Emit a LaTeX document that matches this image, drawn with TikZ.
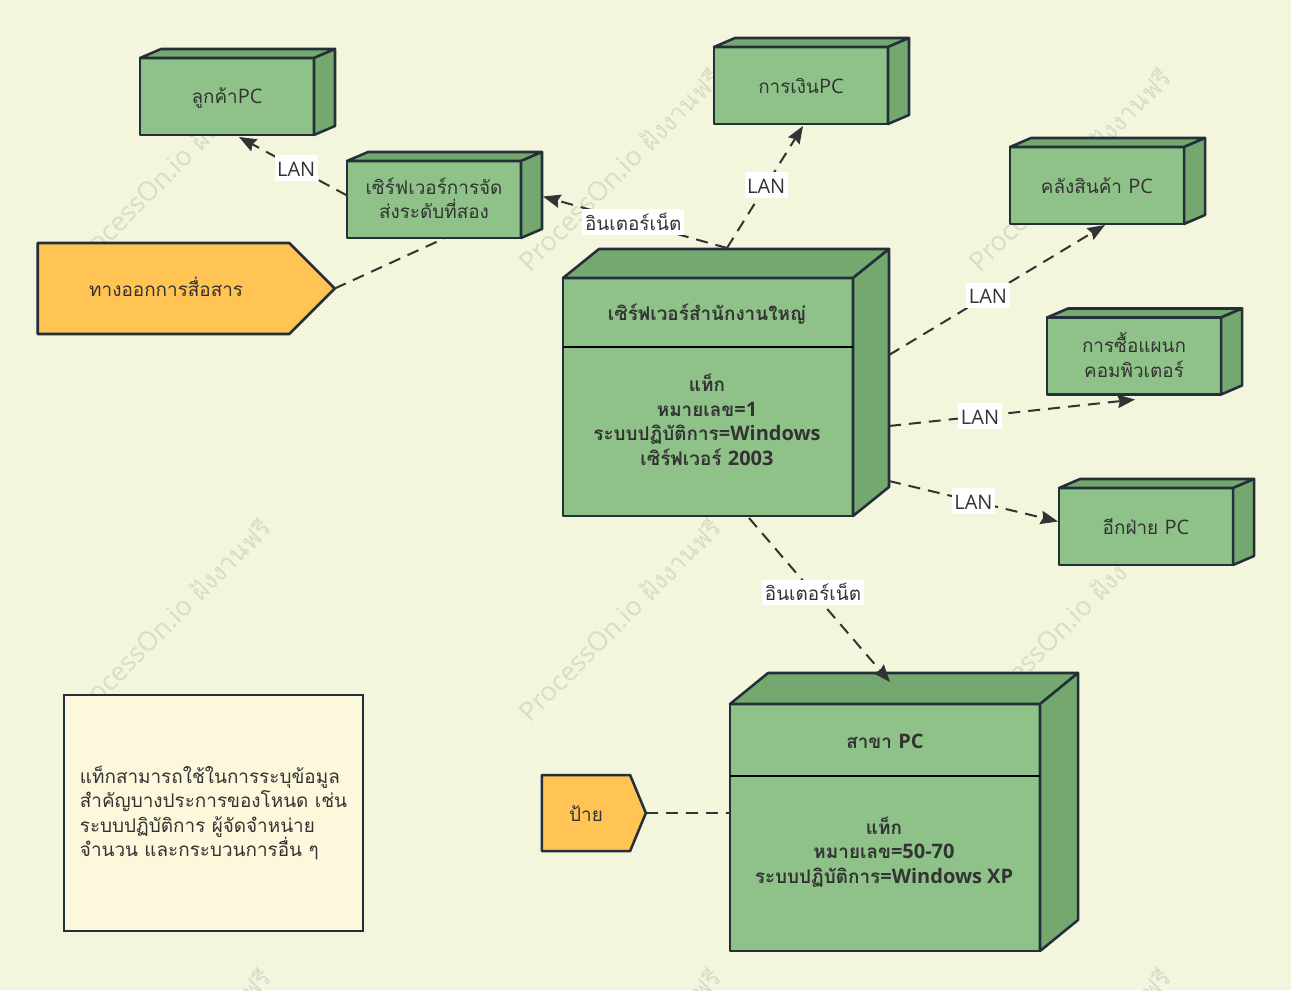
\documentclass[tikz,border=0pt]{standalone}
\usepackage{fontspec}
\setmainfont[Script=Thai,Scale=0.945]{Loma}
\newfontfamily\latfont{Open Sans}
\newcommand{\lat}[1]{{\latfont #1}}
\newcommand{\linestrut}{\rule[-1.9pt]{0pt}{16.4pt}}
\usetikzlibrary{shapes.symbols, arrows.meta}
\definecolor{paper}{HTML}{F3F5DD}
\definecolor{front}{HTML}{8FC288}
\definecolor{side}{HTML}{74A86F}
\definecolor{stroke}{HTML}{23303A}
\definecolor{ink}{HTML}{333333}
\definecolor{flag}{HTML}{FFC454}
\definecolor{memo}{HTML}{FDF8DC}
\definecolor{mark}{HTML}{D9DCC8}
\def\px{0.75pt}
\tikzset{
    every node/.style={text=ink, font=\fontsize{15}{18.4}\selectfont, align=center, outer sep=0pt, inner sep=0pt,
        execute at begin node=\linestrut, execute at end node=\linestrut},
    box/.style={draw=stroke, fill=front, line width=1.9pt, line join=round},
    smallbox/.style={box, minimum width=174*\px, minimum height=77*\px},
    sidebox/.style={draw=stroke, fill=side, line width=1.9pt, line join=round},
    flagbox/.style={draw=stroke, fill=flag, line width=1.9pt, line join=round, shape=signal, signal to=east, signal from=nowhere},
    memobox/.style={draw=stroke, fill=memo, line width=1.9pt, align=left},
    boldtext/.style={font=\fontsize{15}{18.4}\selectfont\bfseries},
    wire/.style={draw=ink, line width=1.5pt, dash pattern=on 9pt off 6pt},
    arrow/.style={wire, -{Stealth[length=13pt, width=10pt, inset=1.5pt]}},
    wiretag/.style={fill=white, inner xsep=2pt, inner ysep=1.5pt},
    waterlabel/.style={text=mark, rotate=45, font=\fontsize{20}{22}\selectfont}
}
\newcommand{\boxdepth}[3]{%
    \path[sidebox] (#1.north west) -- ([shift={(#2,-#3)}]#1.north west)
        -- ([shift={(#2,-#3)}]#1.north east) -- (#1.north east) -- cycle;
    \path[sidebox] (#1.north east) -- ([shift={(#2,-#3)}]#1.north east)
        -- ([shift={(#2,-#3)}]#1.south east) -- (#1.south east) -- cycle;
}
\begin{document}
\begin{tikzpicture}[x=\px, y=-\px]
    \fill[paper] (0,0) rectangle (1291,990);
    \path[use as bounding box, clip] (0,0) rectangle (1291,990);
% Watermarks
    \foreach \wx in {170,620,1070}
        \foreach \wy in {170,620,1070}
            \node[waterlabel] (water\wx\wy) at (\wx,\wy) {\lat{ProcessOn.io} ฝังงานฟรี};
% Small boxes
    \node[smallbox] (client) at (227,96.5) {ลูกค้า\lat{PC}};
    \boxdepth{client}{21}{9}
    \node[smallbox] (second) at (434,199.5) {เซิร์ฟเวอร์การจัด\\ส่งระดับที่สอง};
    \boxdepth{second}{21}{9}
    \node[smallbox] (finance) at (801,85.5) {การเงิน\lat{PC}};
    \boxdepth{finance}{21}{9}
    \node[smallbox] (store) at (1097,185.5) {คลังสินค้า \lat{PC}};
    \boxdepth{store}{21}{9}
    \node[smallbox] (purchase) at (1134,356) {การซื้อแผนก\\คอมพิวเตอร์};
    \boxdepth{purchase}{21}{9}
    \node[smallbox] (other) at (1146,526.5) {อีกฝ่าย \lat{PC}};
    \boxdepth{other}{21}{9}
% Large boxes
    \node[box, minimum width=290*\px, minimum height=238*\px] (head) at (708,397) {};
    \boxdepth{head}{36}{29}
    \draw[stroke, line width=1.9pt] (head.west |- 0,347) -- (head.east |- 0,347);
    \node[boldtext] (headtitle) at (707,313) {เซิร์ฟเวอร์สำนักงานใหญ่};
    \node[boldtext] (headtag) at (707,421) {แท็ก\\หมายเลข\lat{=1}\\ระบบปฏิบัติการ\lat{=Windows}\\เซิร์ฟเวอร์ \lat{2003}};
    \node[box, minimum width=310*\px, minimum height=247*\px] (branch) at (885,827.5) {};
    \boxdepth{branch}{38}{31}
    \draw[stroke, line width=1.9pt] (branch.west |- 0,776) -- (branch.east |- 0,776);
    \node[boldtext] (branchtitle) at (885,740) {สาขา \lat{PC}};
    \node[boldtext] (branchtag) at (884,852) {แท็ก\\หมายเลข\lat{=50-70}\\ระบบปฏิบัติการ\lat{=Windows XP}};
% Flags and note
    \node[flagbox, minimum width=297*\px, minimum height=91*\px, signal pointer angle=90] (exit) at (163.5,288.5) {\hspace{4pt}ทางออกการสื่อสาร};
    \node[flagbox, minimum width=104*\px, minimum height=76*\px, signal pointer angle=135] (sign) at (586,813) {ป้าย};
    \node[memobox, minimum width=299*\px, minimum height=236*\px] (note) at (213.5,813) {แท็กสามารถใช้ในการระบุข้อมูล\\สำคัญบางประการของโหนด เช่น\\ระบบปฏิบัติการ ผู้จัดจำหน่าย\\จำนวน และกระบวนการอื่น ๆ};
% Links
    \draw[arrow] ([shift={(19,-30)}]head.north) -- node[wiretag, pos=0.51] (tagsecond) {อินเตอร์เน็ต} ([shift={(22,-3)}]second.east);
    \draw[arrow] ([shift={(19,-30)}]head.north) -- node[wiretag, pos=0.516] (tagfinance) {\lat{LAN}} ([shift={(2,2)}]finance.south);
    \draw[arrow] ([shift={(36,-42)}]head.east) -- node[wiretag, pos=0.458] (tagstore) {\lat{LAN}} ([shift={(8,1)}]store.south);
    \draw[arrow] ([shift={(36,29)}]head.east) -- node[wiretag, pos=0.37] (tagpurchase) {\lat{LAN}} ([shift={(1,5)}]purchase.south);
    \draw[arrow] ([shift={(36,84)}]head.east) -- node[wiretag, pos=0.5] (tagother) {\lat{LAN}} ([shift={(-1,-5)}]other.west);
    \draw[arrow] ([shift={(41,2)}]head.south) -- node[wiretag, pos=0.454] (tagbranch) {อินเตอร์เน็ต} ([shift={(5,-22)}]branch.north);
    \draw[arrow] ([shift={(0,-4)}]second.west) -- node[wiretag, pos=0.47] (tagclient) {\lat{LAN}} ([shift={(12,2)}]client.south);
    \draw[wire] (exit.east) -- ([shift={(11,0)}]second.south);
    \draw[wire] (sign.east) -- (branch.west |- sign.east);
\end{tikzpicture}
\end{document}
